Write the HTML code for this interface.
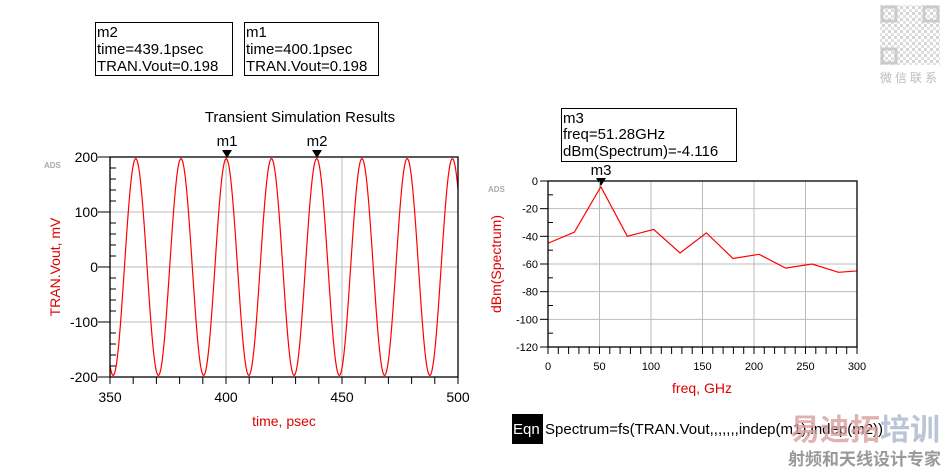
<!DOCTYPE html>
<html><head><meta charset="utf-8"><style>
html,body{margin:0;padding:0;background:#fff;width:947px;height:472px;overflow:hidden}
svg{display:block;font-family:"Liberation Sans",Arial,sans-serif}
</style></head><body>
<svg id="s" width="947" height="472" xmlns="http://www.w3.org/2000/svg">
<defs><pattern id="qr" width="6" height="6" patternUnits="userSpaceOnUse"><rect width="3" height="3" fill="#bbb"/><rect x="3" y="3" width="3" height="3" fill="#ccc"/></pattern></defs>
<rect width="947" height="472" fill="#fff"/>
<rect x="95.5" y="22.5" width="137" height="53" fill="none" stroke="#000"/>
<text x="97" y="37" font-size="15">m2</text>
<text x="97" y="54" font-size="15">time=439.1psec</text>
<text x="97" y="71" font-size="15">TRAN.Vout=0.198</text>
<rect x="244.5" y="22.5" width="134" height="53" fill="none" stroke="#000"/>
<text x="246" y="37" font-size="15">m1</text>
<text x="246" y="54" font-size="15">time=400.1psec</text>
<text x="246" y="71" font-size="15">TRAN.Vout=0.198</text>
<text x="300" y="122" font-size="15" text-anchor="middle">Transient Simulation Results</text>
<text x="44" y="168" font-size="8" fill="#aaa" font-weight="bold">ADS</text>
<g id="lg"></g>
<text x="227" y="146" font-size="15" text-anchor="middle">m1</text>
<text x="317" y="146" font-size="15" text-anchor="middle">m2</text>
<path d="M222,150 L232,150 L227,158 Z M312,150 L322,150 L317,158 Z" fill="#000"/>
<text x="284" y="426" font-size="14" fill="#e00000" text-anchor="middle">time, psec</text>
<text transform="translate(60,267) rotate(-90)" font-size="14" fill="#e00000" text-anchor="middle">TRAN.Vout, mV</text>
<rect x="561.5" y="108.5" width="175" height="53" fill="none" stroke="#000"/>
<text x="563" y="123" font-size="15">m3</text>
<text x="563" y="139" font-size="15">freq=51.28GHz</text>
<text x="563" y="156" font-size="15">dBm(Spectrum)=-4.116</text>
<text x="601" y="175" font-size="15" text-anchor="middle">m3</text>
<path d="M596,178 L606,178 L601,186 Z" fill="#000"/>
<text x="488" y="192" font-size="8" fill="#aaa" font-weight="bold">ADS</text>
<g id="rg"></g>
<text x="702" y="393" font-size="14" fill="#e00000" text-anchor="middle">freq, GHz</text>
<text transform="translate(501,264) rotate(-90)" font-size="14" fill="#e00000" text-anchor="middle">dBm(Spectrum)</text>
<rect x="512" y="414" width="31" height="30" fill="#000"/>
<text x="513" y="434" font-size="15" fill="#fff">Eqn</text>
<text x="545" y="434" font-size="15">Spectrum=fs(TRAN.Vout,,,,,,,indep(m1),indep(m2))</text>
<g opacity="0.6">
<rect x="880" y="5" width="60" height="60" fill="url(#qr)"/>
<rect x="882" y="7" width="14" height="14" fill="none" stroke="#aaa" stroke-width="3"/><rect x="924" y="7" width="14" height="14" fill="none" stroke="#aaa" stroke-width="3"/><rect x="882" y="49" width="14" height="14" fill="none" stroke="#aaa" stroke-width="3"/>
</g>
<text x="910" y="82" font-size="12" fill="#bbb" text-anchor="middle" font-family="Noto Sans CJK SC,sans-serif" letter-spacing="3">微信联系</text>
<text x="790" y="440" font-size="30" fill="#d9a0a0" opacity="0.8" font-family="Noto Sans CJK SC,sans-serif" font-weight="bold">易迪拓</text>
<text x="880" y="440" font-size="30" fill="#a9b8cc" opacity="0.8" font-family="Noto Sans CJK SC,sans-serif" font-weight="bold">培训</text>
<text x="788" y="465" font-size="17" fill="#999" font-family="Noto Sans CJK SC,sans-serif" font-weight="bold">射频和天线设计专家</text>
</svg>
<script>
var NS="http://www.w3.org/2000/svg";
function el(p,t,a,txt){var e=document.createElementNS(NS,t);for(var k in a)e.setAttribute(k,a[k]);if(txt!=null)e.textContent=txt;p.appendChild(e);return e;}
var g=document.getElementById('lg');
var L=110,R=458,T=157,B=377;
function lx(t){return L+(t-350)/150*(R-L);} function ly(v){return T+(200-v)/400*(B-T);}
[400,450].forEach(function(t){el(g,'line',{x1:lx(t),x2:lx(t),y1:T,y2:B,stroke:'#bbb'});});
[100,0,-100].forEach(function(v){el(g,'line',{x1:L,x2:R,y1:ly(v),y2:ly(v),stroke:'#bbb'});});
for(var t=350;t<=500;t+=10){el(g,'line',{x1:lx(t),x2:lx(t),y1:B,y2:B+7,stroke:'#000'});}
for(var v=-200;v<=200;v+=20){var maj=v%100==0;el(g,'line',{x1:maj?L-12:L,x2:L+(maj?0:6),y1:ly(v),y2:ly(v),stroke:'#000'});}
[200,100,0,-100,-200].forEach(function(v){el(g,'text',{x:L-12,y:ly(v)+5,'font-size':14,'text-anchor':'end'},v);});
[350,400,450,500].forEach(function(t){el(g,'text',{x:lx(t),y:B+25,'font-size':14,'text-anchor':'middle'},t);});
var d='';for(var i=0;i<=1500;i++){var tt=350+i*0.1;var vv=197*Math.cos(2*Math.PI*(tt-400.1)/19.5);d+=(i?'L':'M')+lx(tt).toFixed(2)+','+ly(vv).toFixed(2);}
el(g,'path',{d:d,fill:'none',stroke:'#f00','stroke-width':1.2});
el(g,'rect',{x:L,y:T,width:R-L,height:B-T,fill:'none',stroke:'#000','stroke-width':1.3});
var h=document.getElementById('rg');
var L2=548,R2=857,T2=181,B2=347;
function rx(f){return L2+f/300*(R2-L2);} function ry(v){return T2+(-v)/120*(B2-T2);}
for(var f=50;f<300;f+=50)el(h,'line',{x1:rx(f),x2:rx(f),y1:T2,y2:B2,stroke:'#bbb'});
for(var v=-20;v>-120;v-=20)el(h,'line',{x1:L2,x2:R2,y1:ry(v),y2:ry(v),stroke:'#bbb'});
for(var f=0;f<=300;f+=10){el(h,'line',{x1:rx(f),x2:rx(f),y1:B2,y2:B2+7,stroke:'#000'});}
for(var v=0;v>=-120;v-=10){var mj=v%20==0;el(h,'line',{x1:mj?L2-8:L2,x2:L2+(mj?0:5),y1:ry(v),y2:ry(v),stroke:'#000'});}
for(var v=0;v>=-120;v-=20)el(h,'text',{x:L2-10,y:ry(v)+4,'font-size':11,'text-anchor':'end'},v);
for(var f=0;f<=300;f+=50)el(h,'text',{x:rx(f),y:B2+23,'font-size':11,'text-anchor':'middle'},f);
var pts=[[0,-45],[25.6,-37],[51.3,-4.1],[77,-40],[102.6,-35],[128.2,-52],[153.8,-37.5],[179.5,-56],[205,-53],[230.8,-63],[256.4,-60],[282,-66],[300,-65]];
el(h,'polyline',{points:pts.map(function(p){return rx(p[0])+','+ry(p[1]);}).join(' '),fill:'none',stroke:'#f00','stroke-width':1.2});
el(h,'rect',{x:L2,y:T2,width:R2-L2,height:B2-T2,fill:'none',stroke:'#000','stroke-width':1.3});
</script>
</body></html>
